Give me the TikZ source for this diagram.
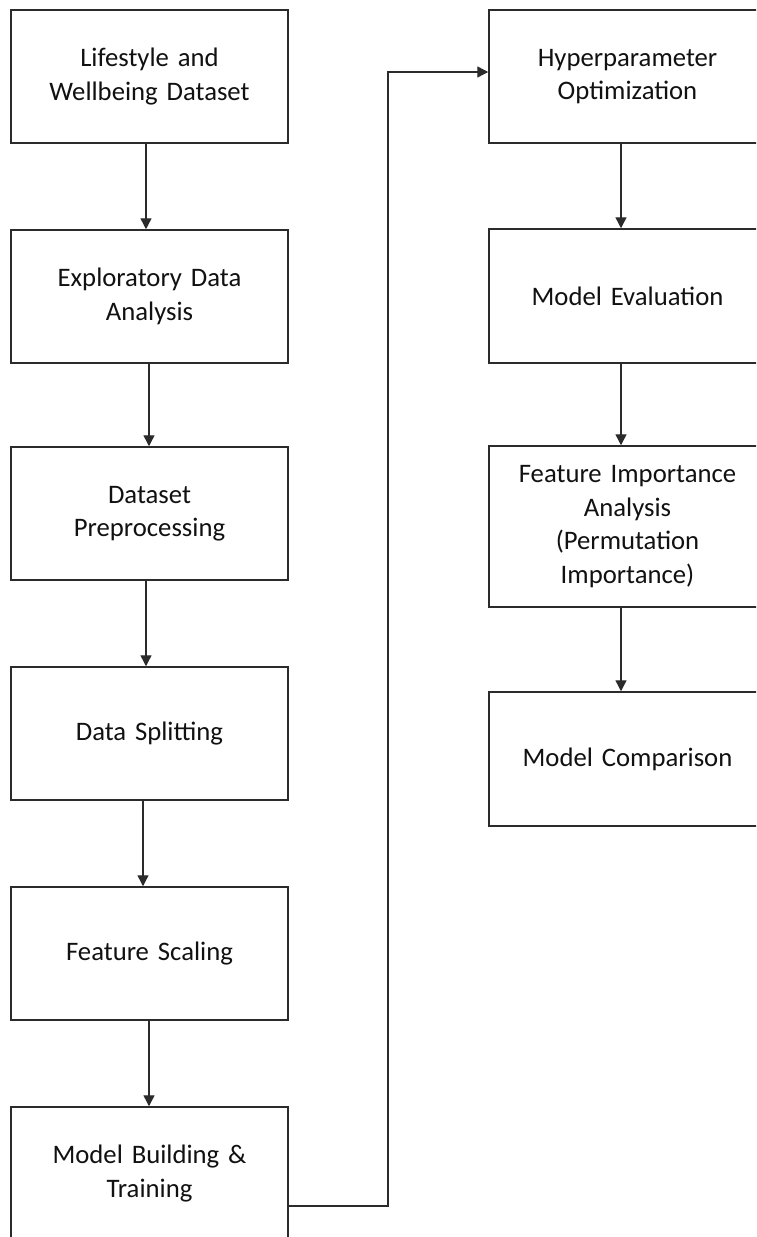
\documentclass[tikz,border=0pt]{standalone}
\usepackage{fontspec}
\setmainfont{Carlito}
\usetikzlibrary{arrows.meta}
\definecolor{linec}{HTML}{2B2B2B}
\definecolor{textc}{HTML}{111111}
\tikzset{
  stepbox/.style={draw=linec, line width=1.5pt, minimum width=277pt, minimum height=133pt,
    text width=260pt, align=center, inner sep=0pt, text=textc,
    font=\fontsize{26.7}{33.5}\selectfont},
  arr/.style={draw=linec, line width=1.4pt, -{Triangle[width=11pt,length=11pt]}}
}
\begin{document}
\begin{tikzpicture}[x=1pt,y=-1pt]
\useasboundingbox (0,0) rectangle (756,1237);
\clip (0,0) rectangle (756,1237);
\fill[white] (0,0) rectangle (756,1237);
% left column
\node[stepbox] (b1) at (149.5,76.5) {Lifestyle and\\Wellbeing Dataset};
\node[stepbox] (b2) at (149.5,296.5) {Exploratory Data\\Analysis};
\node[stepbox] (b3) at (149.5,513.5) {Dataset\\Preprocessing};
\node[stepbox] (b4) at (149.5,733.5) {Data Splitting};
\node[stepbox] (b5) at (149.5,953.5) {Feature Scaling};
\node[stepbox] (b6) at (149.5,1173.5) {Model Building \&\\Training};
% right column
\node[stepbox] (r1) at (627.5,76.5) {Hyperparameter\\Optimization};
\node[stepbox, minimum height=134pt] (r2) at (627.5,296) {Model Evaluation};
\node[stepbox, minimum height=161pt] (r3) at (627.5,526.5) {Feature Importance\\Analysis\\(Permutation\\Importance)};
\node[stepbox, minimum height=134pt] (r4) at (627.5,759) {Model Comparison};
% connectors
\draw[arr] ([xshift=-3.5pt]b1.south) -- ([xshift=-3.5pt]b2.north);
\draw[arr] ([xshift=-0.5pt]b2.south) -- ([xshift=-0.5pt]b3.north);
\draw[arr] ([xshift=-3.5pt]b3.south) -- ([xshift=-3.5pt]b4.north);
\draw[arr] ([xshift=-6.5pt]b4.south) -- ([xshift=-6.5pt]b5.north);
\draw[arr] ([xshift=-0.5pt]b5.south) -- ([xshift=-0.5pt]b6.north);
\coordinate (c1) at (388,1206);
\coordinate (c2) at (388,72);
\draw[arr] (b6.east |- c1) -- (c1) -- (c2) -- (r1.west |- c2);
\draw[arr] ([xshift=-6.5pt]r1.south) -- ([xshift=-6.5pt]r2.north);
\draw[arr] ([xshift=-6.5pt]r2.south) -- ([xshift=-6.5pt]r3.north);
\draw[arr] ([xshift=-6.5pt]r3.south) -- ([xshift=-6.5pt]r4.north);
\end{tikzpicture}
\end{document}
